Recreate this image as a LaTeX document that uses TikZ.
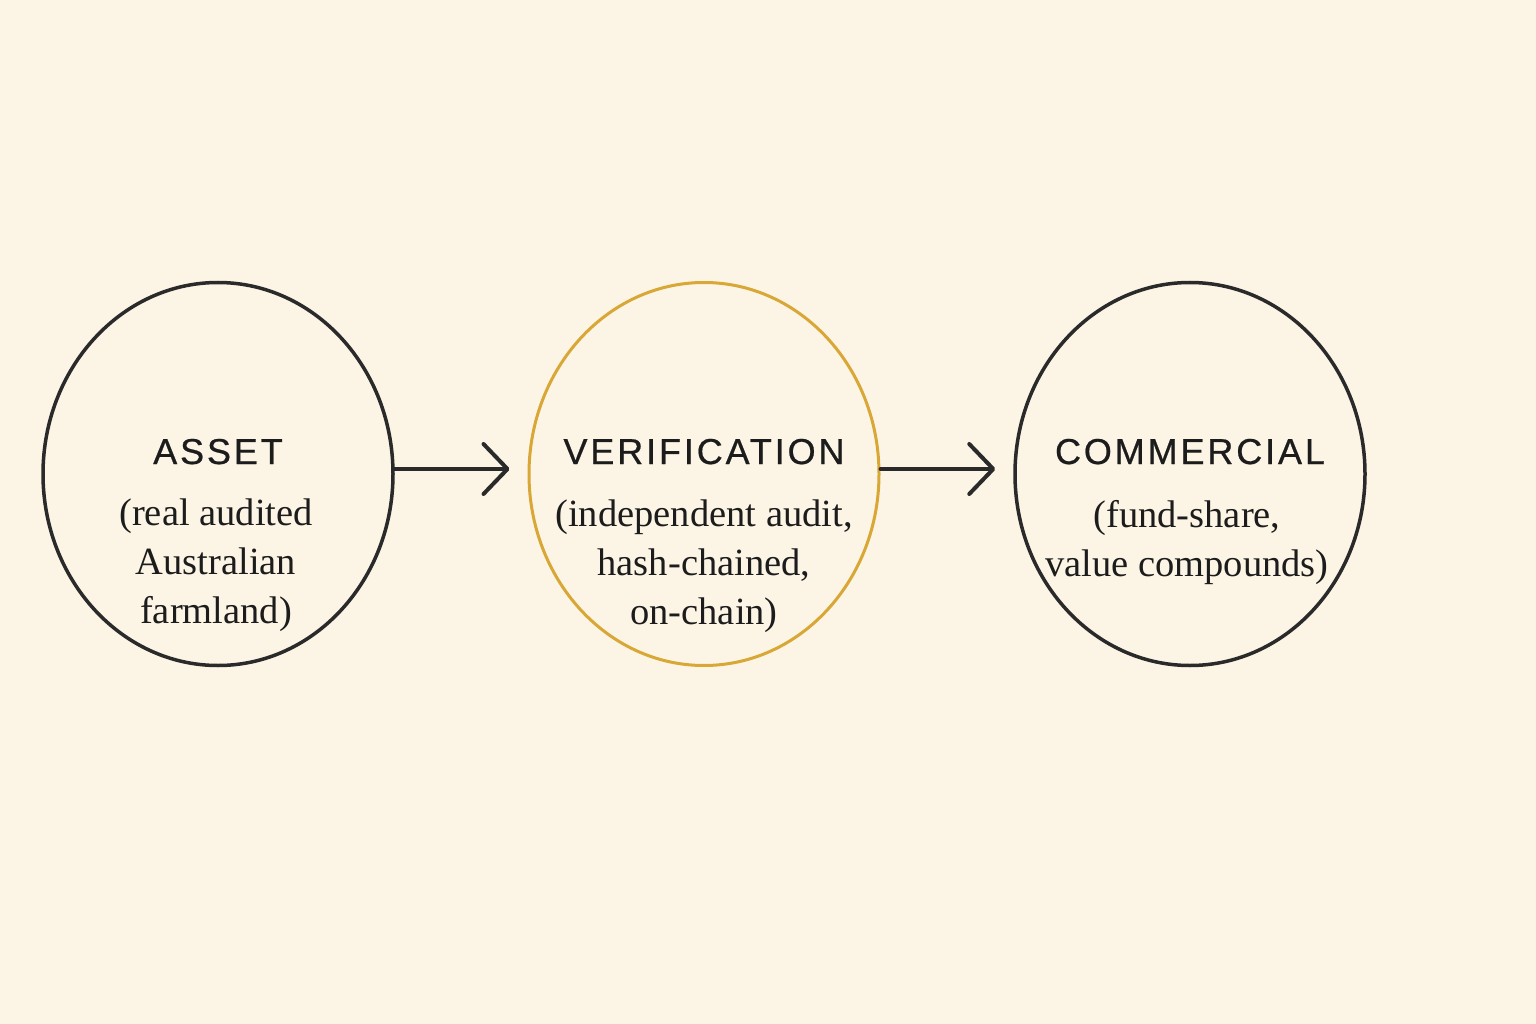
\documentclass[tikz,border=0pt]{standalone}
\usepackage{fontspec}
\setmainfont{Liberation Serif}
\newfontfamily\capsfont[LetterSpace=8,FakeBold=0.6]{Liberation Sans}
\usetikzlibrary{arrows.meta,shapes.geometric,positioning}
\definecolor{paper}{HTML}{FCF5E6}
\definecolor{ink}{HTML}{2A2A2A}
\definecolor{type}{HTML}{1C1C1C}
\definecolor{gold}{HTML}{D8A735}

\begin{document}
\begin{tikzpicture}[x=1pt, y=-1pt,
  stage/.style={ellipse, draw=ink, line width=3.5pt, minimum width=350pt, minimum height=383pt, inner sep=0pt},
  head/.style={anchor=base, text=type, font=\capsfont\fontsize{36}{36}\selectfont},
  note/.style={anchor=base, align=center, text=type, font=\fontsize{38.5}{49}\selectfont},
  flow/.style={draw=ink, line width=4pt, line cap=round, -{Straight Barb[length=24pt, width=50pt, line cap=round, line join=round]}}]
\fill[paper] (0,0) rectangle (1536,1024);
\useasboundingbox (0,0) rectangle (1536,1024);

% the three stages
\node[stage] (asset) at (218,474) {};
\node[stage, draw=gold, line width=3pt] (verif) at (704,474) {};
\node[stage] (comm) at (1190,474) {};

\node[head] (assethd) at (218,464) {ASSET};
\node[head] (verifhd) at (704,464) {VERIFICATION};
\node[head] (commhd) at (1190,464) {COMMERCIAL};

% base of a note is its last line
\node[note] (assetnt) at (216,623) {(real audited\\Australian\\farmland)};
\node[note] (verifnt) at (704,624) {(independent audit,\\hash-chained,\\on-chain)};
\node[note] (commnt) at (1187,576) {(fund-share,\\value compounds)};

% flow between stages
\draw[flow] ([yshift=5pt]asset.east) -- ([xshift=-18pt, yshift=5pt]verif.west);
\draw[flow] ([yshift=5pt]verif.east) -- ([xshift=-18pt, yshift=5pt]comm.west);
\end{tikzpicture}
\end{document}
